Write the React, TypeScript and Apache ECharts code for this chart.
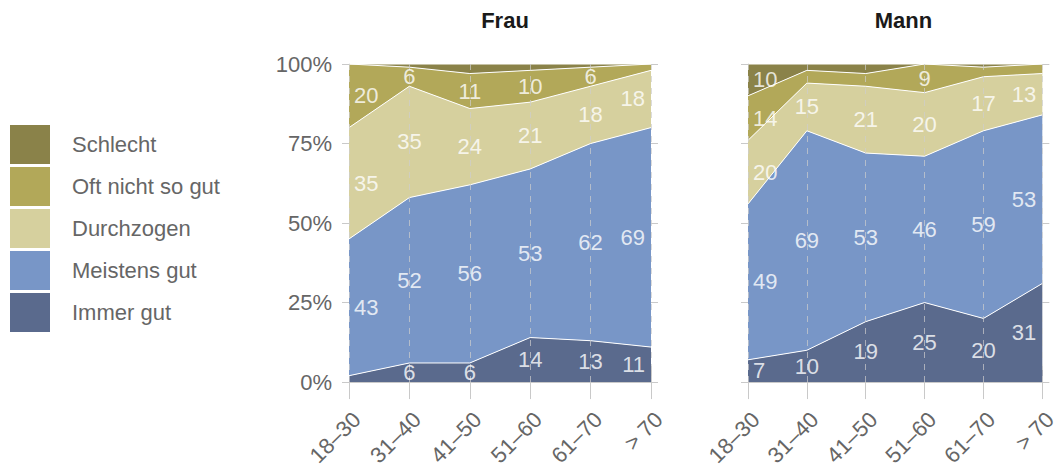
import React, { useEffect, useRef } from "react";
import * as echarts from "echarts";

const categories = ["18–30", "31–40", "41–50", "51–60", "61–70", "> 70"];
const seriesNames = ["Immer gut", "Meistens gut", "Durchzogen", "Oft nicht so gut", "Schlecht"];
const legendOrder = ["Schlecht", "Oft nicht so gut", "Durchzogen", "Meistens gut", "Immer gut"];
const panelTitles = ["Frau", "Mann"];

const frauImmerGut = [2, 6, 6, 14, 13, 11];
const frauMeistensGut = [43, 52, 56, 53, 62, 69];
const frauDurchzogen = [35, 35, 24, 21, 18, 18];
const frauOftNicht = [20, 6, 11, 10, 6, 2];
const frauSchlecht = [0, 1, 3, 2, 1, 0];

const mannImmerGut = [7, 10, 19, 25, 20, 31];
const mannMeistensGut = [49, 69, 53, 46, 59, 53];
const mannDurchzogen = [20, 15, 21, 20, 17, 13];
const mannOftNicht = [14, 4, 4, 9, 3, 3];
const mannSchlecht = [10, 2, 3, 0, 1, 0];

const panels = [
  [frauImmerGut, frauMeistensGut, frauDurchzogen, frauOftNicht, frauSchlecht],
  [mannImmerGut, mannMeistensGut, mannDurchzogen, mannOftNicht, mannSchlecht],
];

const colors = ["#5a6a8d", "#7896c7", "#d6d09e", "#b2a859", "#8a8249"];
const FONT = "'Liberation Sans', Arial, Helvetica, sans-serif";
const GRAY = "#c9c9c9";
const TEXT = "#666666";

export default function App() {
  const ref = useRef<HTMLDivElement>(null);

  useEffect(() => {
    if (!ref.current) return;
    const chart = echarts.init(ref.current, null, { renderer: "svg" });

    const grids = [
      { left: 349, top: 64, width: 302, height: 319 },
      { left: 748, top: 64, width: 301, height: 319 },
    ];

    const xAxis: any[] = [];
    const yAxis: any[] = [];
    const series: any[] = [];

    panels.forEach((panel, p) => {
      xAxis.push({
        type: "category",
        gridIndex: p,
        data: categories,
        boundaryGap: false,
        z: 3,
        axisLine: { show: true, lineStyle: { color: GRAY, width: 1 } },
        axisTick: { show: true, length: 17, lineStyle: { color: GRAY } },
        axisLabel: {
          rotate: 45,
          margin: 26,
          verticalAlign: "top",
          fontSize: 22,
          color: TEXT,
          fontFamily: FONT,
        },
        splitLine: {
          show: true,
          lineStyle: { color: "rgba(205,205,205,0.7)", type: [6, 6], width: 1 },
        },
      });
      xAxis.push({
        type: "category",
        gridIndex: p,
        data: categories,
        position: "top",
        boundaryGap: false,
        axisLine: { show: false },
        axisTick: { show: true, length: 16, lineStyle: { color: GRAY } },
        axisLabel: { show: false },
        splitLine: { show: false },
      });
      yAxis.push({
        type: "value",
        gridIndex: p,
        min: 0,
        max: 100,
        interval: 25,
        position: "left",
        axisLine: { show: true, lineStyle: { color: GRAY } },
        axisTick: { show: true, length: 7, lineStyle: { color: GRAY } },
        axisLabel: {
          show: p === 0,
          formatter: "{value}%",
          margin: 17,
          fontSize: 22,
          color: TEXT,
          fontFamily: FONT,
        },
        splitLine: { show: false },
      });
      yAxis.push({
        type: "value",
        gridIndex: p,
        min: 0,
        max: 100,
        interval: 25,
        position: "right",
        axisLine: { show: false },
        axisTick: { show: true, length: 7, lineStyle: { color: GRAY } },
        axisLabel: { show: false },
        splitLine: { show: false },
      });

      panel.forEach((values, i) => {
        series.push({
          name: seriesNames[i],
          type: "line",
          xAxisIndex: p * 2,
          yAxisIndex: p * 2,
          stack: "panel" + p,
          data: values,
          symbol: "none",
          color: colors[i],
          lineStyle: { color: "#ffffff", width: 1 },
          areaStyle: { color: colors[i], opacity: 1 },
          itemStyle: { color: colors[i] },
          z: 2,
        });
      });

      const labelData: any[] = [];
      const cum = categories.map(() => 0);
      const last = categories.length - 1;
      panel.forEach((values) => {
        values.forEach((v, j) => {
          const mid = cum[j] + v / 2;
          cum[j] += v;
          if (v < 5) return;
          labelData.push({
            value: [categories[j], mid],
            label:
              j === 0
                ? { align: "left", offset: [5, 0] }
                : j === last
                ? { align: "right", offset: [-6, 0] }
                : { align: "center" },
            name: String(v),
          });
        });
      });
      series.push({
        name: "labels" + p,
        type: "scatter",
        xAxisIndex: p * 2,
        yAxisIndex: p * 2,
        symbolSize: 0,
        silent: true,
        z: 5,
        data: labelData,
        label: {
          show: true,
          position: "inside",
          formatter: (d: any) => d.name,
          color: "#ffffff",
          fontSize: 22,
          fontFamily: FONT,
        },
      });
    });

    chart.setOption({
      animation: false,
      textStyle: { fontFamily: FONT },
      title: panelTitles.map((t, p) => ({
        text: t,
        left: grids[p].left + grids[p].width / 2,
        top: 4,
        textAlign: "center",
        textStyle: { fontSize: 22, fontWeight: "bold", color: "#1a1a1a", fontFamily: FONT },
      })),
      legend: {
        data: legendOrder,
        orient: "vertical",
        left: 10,
        top: 125,
        padding: 0,
        itemWidth: 40,
        itemHeight: 39,
        itemGap: 3,
        icon: "rect",
        selectedMode: false,
        itemStyle: { borderWidth: 0 },
        textStyle: { fontSize: 22, color: TEXT, fontFamily: FONT, padding: [0, 0, 0, 17] },
      },
      grid: grids,
      xAxis,
      yAxis,
      series,
    });

    return () => chart.dispose();
  }, []);

  return (
    <div
      ref={ref}
      style={{ position: "absolute", left: 0, top: 0, width: 1060, height: 469 }}
    />
  );
}
